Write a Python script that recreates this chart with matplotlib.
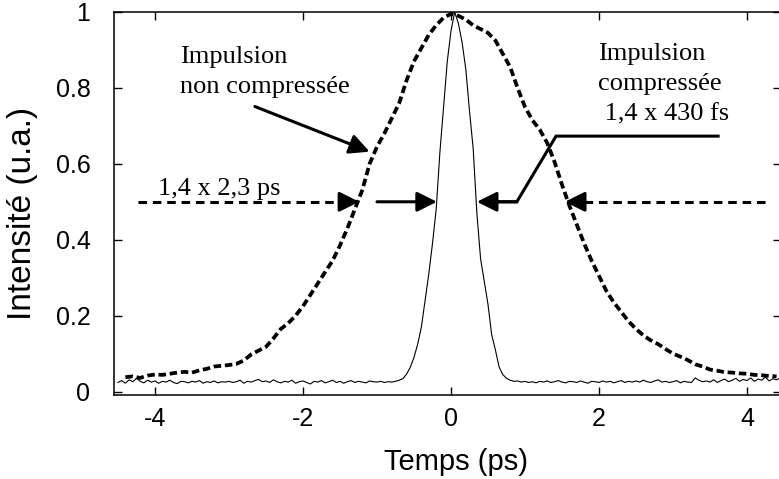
import numpy as np
import matplotlib.pyplot as plt

# time grids (ps)
t_comp = np.round(np.arange(-4.5, 4.475, 0.05), 2)
t_broad = np.round(np.arange(-4.4, 4.45, 0.1), 2)

# compressed pulse (thin line)
i_comp = [
    0.024, 0.029, 0.022, 0.031, 0.026, 0.035, 0.027, 0.023, 0.030, 0.025,
    0.028, 0.022, 0.027, 0.025, 0.030, 0.024, 0.021, 0.027, 0.026, 0.023,
    0.027, 0.025, 0.029, 0.022, 0.026, 0.024, 0.028, 0.023, 0.026, 0.025,
    0.027, 0.024, 0.026, 0.030, 0.022, 0.027, 0.025, 0.029, 0.032, 0.026,
    0.028, 0.024, 0.031, 0.026, 0.023, 0.027, 0.025, 0.030, 0.022, 0.026,
    0.028, 0.024, 0.020, 0.027, 0.025, 0.029, 0.023, 0.026, 0.030, 0.024,
    0.027, 0.022, 0.026, 0.029, 0.024, 0.027, 0.025, 0.023, 0.028, 0.026,
    0.025, 0.027, 0.024, 0.026, 0.025, 0.027, 0.030, 0.034, 0.046, 0.064,
    0.090, 0.125, 0.170, 0.240, 0.310, 0.390, 0.480, 0.630, 0.750, 0.870,
    0.950, 1.000, 0.970, 0.920, 0.850, 0.740, 0.640, 0.470, 0.350, 0.290,
    0.230, 0.150, 0.110, 0.065, 0.045, 0.035, 0.030, 0.027, 0.028, 0.025,
    0.027, 0.024, 0.026, 0.023, 0.027, 0.025, 0.028, 0.024, 0.026, 0.029,
    0.025, 0.023, 0.027, 0.026, 0.024, 0.028, 0.025, 0.022, 0.027, 0.026,
    0.024, 0.028, 0.025, 0.027, 0.023, 0.026, 0.029, 0.024, 0.027, 0.025,
    0.028, 0.025, 0.030, 0.026, 0.024, 0.028, 0.031, 0.025, 0.027, 0.024,
    0.026, 0.029, 0.023, 0.027, 0.025, 0.024, 0.036, 0.030, 0.026, 0.028,
    0.025, 0.031, 0.024, 0.029, 0.033, 0.026, 0.030, 0.035, 0.027, 0.032,
    0.029, 0.036, 0.027, 0.033, 0.030, 0.038, 0.028, 0.034, 0.031, 0.036,
]

# uncompressed pulse (thick dashed line)
i_broad = [
    0.038, 0.040, 0.036, 0.042, 0.045, 0.044, 0.047, 0.050, 0.052,
    0.050, 0.056, 0.060, 0.066, 0.068, 0.070, 0.073, 0.082, 0.098, 0.108,
    0.118, 0.140, 0.165, 0.180, 0.200, 0.225, 0.255, 0.285, 0.315, 0.345,
    0.385, 0.430, 0.480, 0.530, 0.600, 0.645, 0.680, 0.720, 0.760, 0.820,
    0.870, 0.905, 0.940, 0.965, 0.985, 0.995, 0.990, 0.980, 0.965, 0.955,
    0.945, 0.925, 0.890, 0.855, 0.800, 0.750, 0.715, 0.690, 0.655, 0.605,
    0.545, 0.490, 0.440, 0.390, 0.345, 0.305, 0.265, 0.235, 0.210, 0.185,
    0.165, 0.148, 0.135, 0.125, 0.112, 0.100, 0.092, 0.083, 0.072, 0.066,
    0.058, 0.055, 0.051, 0.050, 0.048, 0.047, 0.044, 0.043, 0.041, 0.040,
]

xticks = [-4, -2, 0, 2, 4]
yticks = [0, 0.2, 0.4, 0.6, 0.8, 1]
ytick_labels = ['0', '0.2', '0.4', '0.6', '0.8', '1']

sans = ['Liberation Sans', 'DejaVu Sans']
serif = ['Liberation Serif', 'DejaVu Serif']

fig = plt.figure(figsize=(7.79, 4.79), dpi=100)
ax = fig.add_axes([114 / 779, 84 / 479, 667.3 / 779, 383 / 479])

ax.plot(t_comp, i_comp, color='black', lw=0.8, zorder=2)
ax.plot(t_broad, i_broad, color='black', lw=2.7, linestyle=(0, (2.0, 1.0)), zorder=3)

ax.set_xlim(-4.554, 4.464)
ax.set_ylim(-0.009, 1.0)

ax.set_xticks(xticks)
ax.set_xticklabels([str(v) for v in xticks], family=sans, fontsize=18)
ax.set_yticks(yticks)
ax.set_yticklabels(ytick_labels, family=sans, fontsize=18)
ax.tick_params(direction='in', top=True, right=True, length=6, width=1)
ax.tick_params(axis='x', pad=8.5)
ax.tick_params(axis='y', pad=17)
for s in ax.spines.values():
    s.set_linewidth(1.1)

ax.set_xlabel('Temps (ps)', family=sans, fontsize=21, va='center')
ax.xaxis.set_label_coords(0.512, -0.175)
ax.set_ylabel('Intensité (u.a.)', family=sans, fontsize=24, va='center')
ax.yaxis.set_label_coords(-0.137, 0.473)

head = dict(arrowstyle='-|>,head_length=0.6,head_width=0.3', mutation_scale=20,
            lw=2.2, color='black', shrinkA=0, shrinkB=0)
head_len = 0.22

# dashed arrows at half maximum
for x0, x1 in [(-4.23, -1.24), (4.24, 1.54)]:
    d = np.sign(x1 - x0)
    ax.plot([x0, x1 - d * head_len], [0.5, 0.5], color='black', lw=2.2,
            linestyle=(0, (2.8, 1.9)), zorder=4)
    ax.annotate('', xy=(x1, 0.5), xytext=(x1 - d * head_len, 0.5), arrowprops=head, zorder=4)

# solid arrows for compressed pulse
ax.annotate('', xy=(-0.19, 0.5), xytext=(-1.0, 0.5), arrowprops=head, zorder=4)
ax.plot([3.61, 1.42, 0.89, 0.5], [0.673, 0.673, 0.5, 0.5], color='black', lw=2.2,
        solid_joinstyle='miter', zorder=4)
ax.annotate('', xy=(0.35, 0.5), xytext=(0.89, 0.5), arrowprops=head, zorder=4)

# arrow from label to uncompressed pulse
ax.annotate('', xy=(-1.1, 0.632), xytext=(-2.65, 0.751), arrowprops=head, zorder=4)

ax.text(-3.66, 0.786, 'Impulsion\nnon compressée', family=serif, fontsize=19,
        va='baseline', ha='left', linespacing=1.5)
ax.text(1.99, 0.714, 'Impulsion\ncompressée\n 1,4 x 430 fs', family=serif, fontsize=19,
        va='baseline', ha='left', linespacing=1.5)
ax.text(-3.96, 0.517, '1,4 x 2,3 ps', family=serif, fontsize=19, va='baseline', ha='left')

fig.savefig('out.png', dpi=100)
